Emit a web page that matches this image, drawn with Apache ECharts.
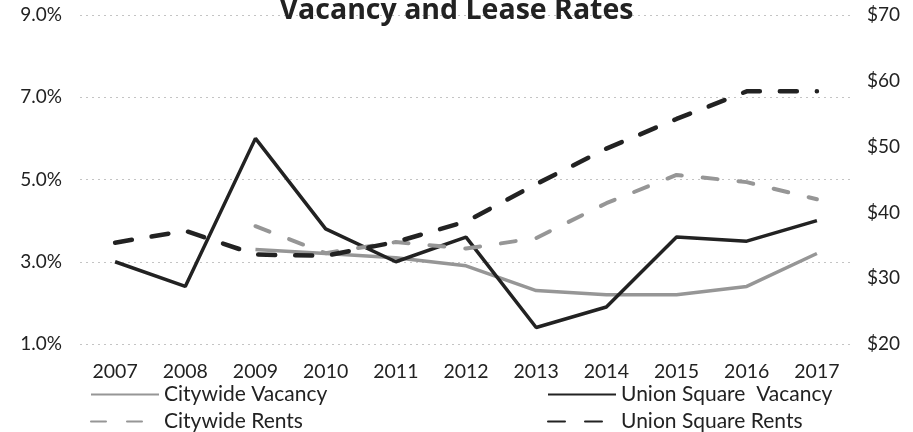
<!DOCTYPE html>
<html>
<head>
<meta charset="utf-8">
<script src="https://cdn.jsdelivr.net/npm/echarts@6/dist/echarts.min.js"></script>
<style>
  html, body { margin: 0; padding: 0; background: #fff; }
  #chart { width: 913px; height: 432px; }
</style>
</head>
<body>
<div id="chart"></div>
<script>
const years = ['2007', '2008', '2009', '2010', '2011', '2012', '2013', '2014', '2015', '2016', '2017']
const citywideVacancy = [null, null, 3.3, 3.2, 3.1, 2.9, 2.3, 2.2, 2.2, 2.4, 3.2]
const unionVacancy = [3.0, 2.4, 6.0, 3.8, 3.0, 3.6, 1.4, 1.9, 3.6, 3.5, 4.0]
const citywideRents = [null, null, 37.9, 33.8, 35.5, 34.5, 36.1, 41.4, 45.7, 44.6, 42.0]
const unionRents = [35.4, 37.2, 33.6, 33.4, 35.5, 38.6, 44.3, 49.7, 54.2, 58.4, 58.4]

const font = 'Lato'
const gray = '#969696'
const dark = '#222222'

const chart = echarts.init(document.getElementById('chart'))

// shared legend look: line icon only, no symbol
const legendBase = {
  orient: 'vertical',
  top: 384,
  padding: 0,
  itemWidth: 68,
  itemHeight: 20,
  itemGap: 6,
  itemStyle: { opacity: 0 },
  textStyle: { fontFamily: font, fontSize: 21, color: '#222' }
}

chart.setOption({
  animation: false,
  title: {
    text: 'Vacancy and Lease Rates',
    left: 'center',
    top: -9,
    textStyle: { fontFamily: 'Open Sans', fontSize: 28.5, fontWeight: 'bold', color: '#222' }
  },
  grid: { left: 80, right: 61, top: 15, bottom: 88 },
  legend: [
    Object.assign({}, legendBase, { data: ['Citywide Vacancy', 'Citywide Rents'], left: 90 }),
    Object.assign({}, legendBase, { data: ['Union Square  Vacancy', 'Union Square Rents'], left: 547 })
  ],
  xAxis: {
    type: 'category',
    data: years,
    axisLine: { show: false },
    axisTick: { show: false },
    axisLabel: { fontFamily: font, fontSize: 19.5, color: '#222', margin: 18 }
  },
  yAxis: [
    {
      type: 'value',
      min: 1,
      max: 9,
      interval: 2,
      axisLabel: {
        fontFamily: font, fontSize: 19, color: '#222', margin: 18,
        formatter: v => v.toFixed(1) + '%'
      },
      splitLine: { lineStyle: { color: '#c4c4c4', type: [2, 4], width: 1 } }
    },
    {
      type: 'value',
      min: 20,
      max: 70,
      interval: 10,
      axisLabel: {
        fontFamily: font, fontSize: 19, color: '#222', margin: 15,
        formatter: v => '$' + v
      },
      splitLine: { show: false }
    }
  ],
  series: [
    {
      name: 'Citywide Vacancy',
      type: 'line',
      data: citywideVacancy,
      symbol: 'none',
      lineStyle: { color: gray, width: 3.5 },
      itemStyle: { color: gray }
    },
    {
      name: 'Union Square  Vacancy',
      type: 'line',
      data: unionVacancy,
      symbol: 'none',
      lineStyle: { color: dark, width: 3.5 },
      itemStyle: { color: dark }
    },
    {
      name: 'Citywide Rents',
      type: 'line',
      yAxisIndex: 1,
      data: citywideRents,
      symbol: 'none',
      lineStyle: { color: gray, width: 4, type: [15, 21], cap: 'round' },
      itemStyle: { color: gray }
    },
    {
      name: 'Union Square Rents',
      type: 'line',
      yAxisIndex: 1,
      data: unionRents,
      symbol: 'none',
      lineStyle: { color: dark, width: 4.5, type: [17, 20], cap: 'round' },
      itemStyle: { color: dark }
    }
  ]
})
</script>
</body>
</html>
